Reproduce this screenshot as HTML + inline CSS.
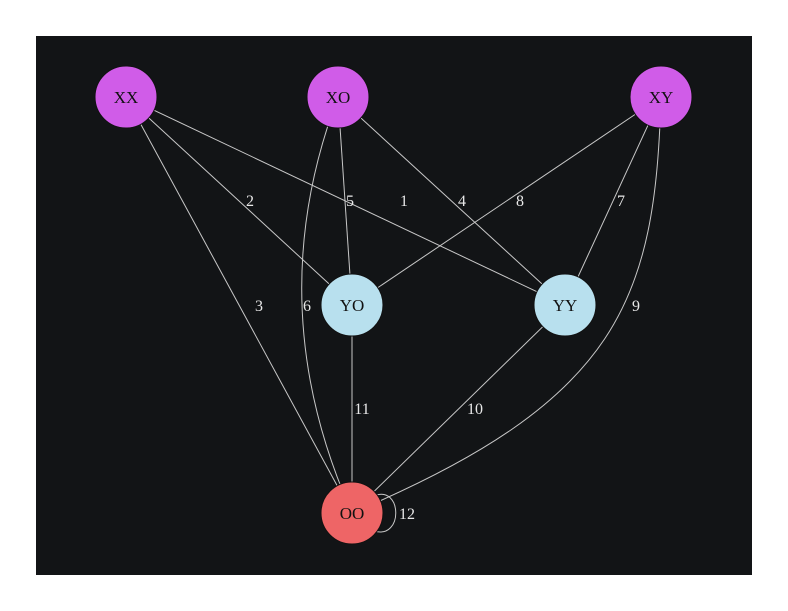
<!DOCTYPE html>
<html><head><style>body{margin:0;background:#fff}svg{display:block}</style></head><body>
<svg width="788" height="611" viewBox="0 0 788 611" xmlns="http://www.w3.org/2000/svg" font-family="Liberation Serif, serif">
<rect x="36" y="36" width="716" height="539" fill="#121416"/>
<g stroke="#c8c8c8" stroke-width="1" fill="none">
<line x1="126" y1="97" x2="565" y2="305"/>
<line x1="126" y1="97" x2="352" y2="305"/>
<line x1="126" y1="97" x2="352" y2="513"/>
<line x1="338" y1="97" x2="565" y2="305"/>
<line x1="338" y1="97" x2="352" y2="305"/>
<path d="M338,97 Q259,305 352,513"/>
<line x1="661" y1="97" x2="565" y2="305"/>
<line x1="661" y1="97" x2="352" y2="305"/>
<path d="M661,97 C655,300 620,400 352,513"/>
<line x1="565" y1="305" x2="352" y2="513"/>
<line x1="352" y1="305" x2="352" y2="513"/>
<path d="M374,496 C402,484 404,540 374,531"/>
</g>
<g fill="#e8e8e8" font-size="16" text-anchor="middle">
<text x="404" y="206">1</text>
<text x="250" y="206">2</text>
<text x="259" y="311">3</text>
<text x="462" y="206">4</text>
<text x="350" y="206">5</text>
<text x="307" y="311">6</text>
<text x="621" y="206">7</text>
<text x="520" y="206">8</text>
<text x="636" y="311">9</text>
<text x="475" y="414">10</text>
<text x="362" y="414">11</text>
<text x="407" y="519">12</text>
</g>
<g stroke="#111" stroke-width="1">
<circle cx="126" cy="97" r="31" fill="#d05ce8"/>
<circle cx="338" cy="97" r="31" fill="#d05ce8"/>
<circle cx="661" cy="97" r="31" fill="#d05ce8"/>
<circle cx="352" cy="305" r="31" fill="#b8e0ee"/>
<circle cx="565" cy="305" r="31" fill="#b8e0ee"/>
<circle cx="352" cy="513" r="31" fill="#ee6566"/>
</g>
<g fill="#111" font-size="17" text-anchor="middle">
<text x="126" y="103">XX</text>
<text x="338" y="103">XO</text>
<text x="661" y="103">XY</text>
<text x="352" y="311">YO</text>
<text x="565" y="311">YY</text>
<text x="352" y="519">OO</text>
</g>
</svg>
</body></html>
